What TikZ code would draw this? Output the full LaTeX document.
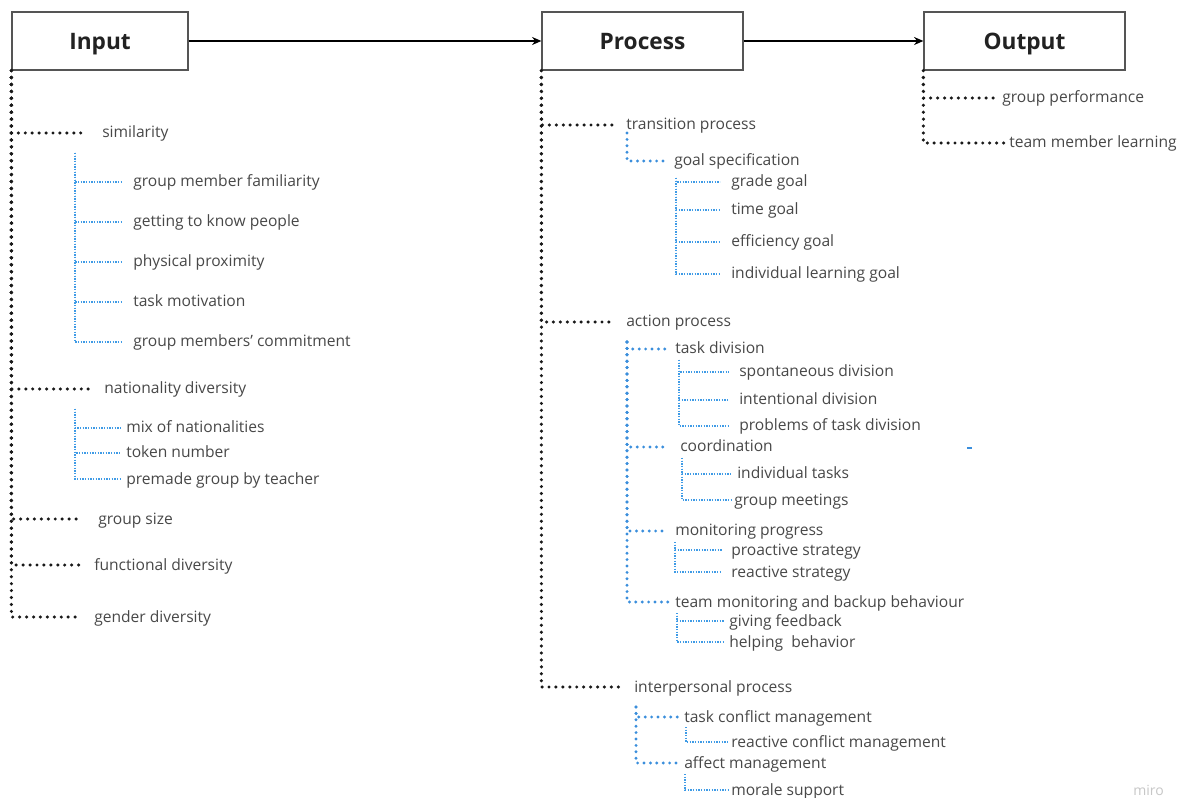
\documentclass[tikz,border=0pt]{standalone}
\usepackage{fontspec}
\setmainfont{Open Sans}
\usetikzlibrary{arrows.meta}
\definecolor{txt}{HTML}{484848}
\definecolor{ttl}{HTML}{222222}
\definecolor{boxc}{HTML}{555555}
\definecolor{bthick}{HTML}{3A8EDC}
\definecolor{bthinc}{HTML}{3F9BE6}
\tikzset{
  box/.style={draw=boxc, line width=0.9pt, minimum height=43.5pt, inner sep=0pt,
    text height=12.1pt, text depth=0pt,
    font=\fontsize{17}{19}\selectfont\bfseries, text=ttl},
  lbl/.style={anchor=west, inner sep=0pt, text height=7.5pt, text depth=0pt,
    font=\fontsize{11.7}{13}\selectfont, text=txt},
  flowarrow/.style={line width=1.1pt, draw=black, -{Stealth[length=7pt,width=6pt]}},
  bdot/.style={draw=black!90, line width=2.6pt, line cap=round, dash pattern=on 0pt off 5.2pt},
  blued/.style={draw=bthick, line width=2.4pt, line cap=round, dash pattern=on 0pt off 4.8pt},
  bthin/.style={draw=bthinc, line width=1pt, dash pattern=on 0.9pt off 1.1pt},
}
\begin{document}
\begin{tikzpicture}[x=0.75pt,y=-0.75pt]
\useasboundingbox[fill=white] (0,0) rectangle (1182,798);

% boxes
\node[box, minimum width=132pt] (in) at (100,41) {Input};
\node[box, minimum width=150.75pt] (pr) at (642.5,41) {Process};
\node[box, minimum width=150.75pt] (out) at (1024.5,41) {Output};
\draw[flowarrow] (in.east) -- (pr.west);
\draw[flowarrow] (pr.east) -- (out.west);

% ---------- Input tree ----------
\node[lbl] (sim) at (102,133) {similarity};
\node[lbl] (gmf) at (133,182) {group member familiarity};
\node[lbl] (gtk) at (133,222) {getting to know people};
\node[lbl] (pp)  at (133,262) {physical proximity};
\node[lbl] (tm)  at (133,302) {task motivation};
\node[lbl] (gmc) at (133,342) {group members' commitment};
\node[lbl] (nat) at (104,389) {nationality diversity};
\node[lbl] (mix) at (126,428) {mix of nationalities};
\node[lbl] (tok) at (126,453) {token number};
\node[lbl] (pre) at (126,479) {premade group by teacher};
\node[lbl] (gs)  at (98,519) {group size};
\node[lbl] (fd)  at (94,565) {functional diversity};
\node[lbl] (gd)  at (94,617) {gender diversity};

\draw[bdot, shorten >=12.75pt] (in.south west) |- (sim.west);
\draw[bdot, shorten >=9pt] (in.south west) |- (nat.west);
\draw[bdot, shorten >=12pt] (in.south west) |- (gs.west);
\draw[bdot, shorten >=6.75pt] (in.south west) |- (fd.west);
\draw[bdot, shorten >=9pt] (in.south west) |- (gd.west);

\coordinate (simv) at (75,153);
\foreach \n in {gmf,gtk,pp,tm,gmc} \draw[bthin, shorten >=8.25pt] (simv) |- (\n.west);
\coordinate (natv) at (75,409);
\foreach \n in {mix,tok,pre} \draw[bthin, shorten >=3.75pt] (natv) |- (\n.west);

% ---------- Process tree ----------
\node[lbl] (trp) at (626,125) {transition process};
\node[lbl] (gsp) at (674,161) {goal specification};
\node[lbl] (gg)  at (731,182) {grade goal};
\node[lbl] (tg)  at (731,210) {time goal};
\node[lbl] (eg)  at (731,242) {efficiency goal};
\node[lbl] (ilg) at (731,274) {individual learning goal};

\node[lbl] (acp) at (626,322) {action process};
\node[lbl] (td)  at (675,349) {task division};
\node[lbl] (sd)  at (739,372) {spontaneous division};
\node[lbl] (idv) at (739,400) {intentional division};
\node[lbl] (ptd) at (739,426) {problems of task division};
\node[lbl] (co)  at (680,447) {coordination};
\node[lbl] (it)  at (737,474) {individual tasks};
\node[lbl] (gm)  at (734,500) {group meetings};
\node[lbl] (mp)  at (675,531) {monitoring progress};
\node[lbl] (ps)  at (731,550) {proactive strategy};
\node[lbl] (rs)  at (731,572) {reactive strategy};
\node[lbl] (tmb) at (675,602) {team monitoring and backup behaviour};
\node[lbl] (gf)  at (729,621) {giving feedback};
\node[lbl] (hb)  at (729,642) {helping\ \ behavior};

\node[lbl] (ipp) at (634,687) {interpersonal process};
\node[lbl] (tcm) at (684,717) {task conflict management};
\node[lbl] (rcm) at (731,742) {reactive conflict management};
\node[lbl] (am)  at (684,763) {affect management};
\node[lbl] (ms)  at (731,790) {morale support};

\draw[bdot, shorten >=9.75pt] (pr.south west) |- (trp.west);
\draw[bdot, shorten >=9.75pt] (pr.south west) |- (acp.west);
\draw[bdot, shorten >=9.75pt] (pr.south west) |- (ipp.west);

\coordinate (trv) at (627,133);
\draw[blued, shorten >=4.5pt] (trv) |- (gsp.west);
\coordinate (gsv) at (676,178);
\foreach \n in {gg,tg,eg,ilg} \draw[bthin, shorten >=8.25pt] (gsv) |- (\n.west);

\coordinate (acv) at (627,342);
\draw[blued, shorten >=5pt] (acv) |- (td.west);
\draw[blued, shorten >=9pt] (acv) |- (co.west);
\draw[blued, shorten >=5pt] (acv) |- (mp.west);
\draw[blued, shorten >=5pt] (acv) |- (tmb.west);

\coordinate (tdv) at (679,360);
\foreach \n in {sd,idv,ptd} \draw[bthin, shorten >=7.5pt] (tdv) |- (\n.west);
\coordinate (cov) at (682,458);
\draw[bthin, shorten >=4.5pt] (cov) |- (it.west);
\draw[bthin, shorten >=2.25pt] (cov) |- (gm.west);
\coordinate (mpv) at (675,542);
\foreach \n in {ps,rs} \draw[bthin, shorten >=6.75pt] (mpv) |- (\n.west);
\coordinate (tmv) at (677,613);
\foreach \n in {gf,hb} \draw[bthin, shorten >=3.75pt] (tmv) |- (\n.west);

\coordinate (ipv) at (636,707);
\draw[blued, shorten >=5pt] (ipv) |- (tcm.west);
\draw[blued, shorten >=5pt] (ipv) |- (am.west);
\coordinate (tcv) at (686,727);
\draw[bthin, shorten >=1.5pt] (tcv) |- (rcm.west);
\coordinate (amv) at (685,774);
\draw[bthin, shorten >=1.5pt] (amv) |- (ms.west);

% stray dash
\coordinate (dashA) at (967,448);
\coordinate (dashB) at (972,448);
\draw[draw=bthick, line width=1.1pt] (dashA) -- (dashB);

% ---------- Output tree ----------
\node[lbl] (gp)  at (1002,98) {group performance};
\node[lbl] (tml) at (1009,143) {team member learning};
\draw[bdot, shorten >=5.25pt] (out.south west) |- (gp.west);
\draw[bdot, shorten >=3.75pt] (out.south west) |- (tml.west);

% watermark
\node[anchor=west, inner sep=0pt, font=\fontsize{10.5}{12}\selectfont, text=black!22] (miro) at (1133,790) {miro};
\end{tikzpicture}
\end{document}
